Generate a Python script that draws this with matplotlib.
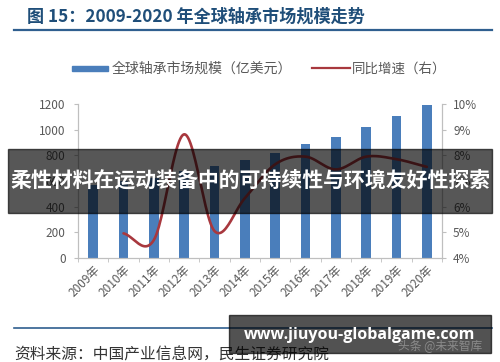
import matplotlib
matplotlib.use("Agg")
import matplotlib.pyplot as plt
import numpy as np
from matplotlib.patches import Rectangle
from matplotlib.lines import Line2D

plt.rcParams["font.family"] = ["Noto Sans CJK SC", "DejaVu Sans"]

# ── Data ────────────────────────────────────────────────────────────────────
years = ["2009年", "2010年", "2011年", "2012年", "2013年", "2014年",
         "2015年", "2016年", "2017年", "2018年", "2019年", "2020年"]
market_size = [570, 598, 626, 681, 715, 760, 820, 885, 945, 1023, 1107, 1190]
growth_years_idx = [1, 2, 3, 4, 5, 6, 7, 8, 9, 10, 11]
growth_pct = [4.96, 4.70, 8.82, 5.05, 6.33, 7.65, 7.95, 7.45, 7.95, 7.85, 7.55]

title = "图 15：2009-2020 年全球轴承市场规模走势"
legend_bar = "全球轴承市场规模（亿美元）"
legend_line = "同比增速（右）"
source = "资料来源：中国产业信息网，民生证券研究院"
banner = "柔性材料在运动装备中的可持续性与环境友好性探索"
site = "www.jiuyou-globalgame.com"

BAR_COLOR = "#4A7EBB"
LINE_COLOR = "#A8383E"
TITLE_COLOR = "#1F4E79"
AXIS_GRAY = "#BFBFBF"
TEXT_GRAY = "#595959"

W, H = 500, 362


def fx(x):
    return x / W


def fy(y):
    return 1 - y / H


def catmull_rom(x, y, n=24):
    """Smooth curve through the points (Excel-like smoothed line)."""
    x = np.asarray(x, float)
    y = np.asarray(y, float)
    px = np.concatenate([[2 * x[0] - x[1]], x, [2 * x[-1] - x[-2]]])
    py = np.concatenate([[2 * y[0] - y[1]], y, [2 * y[-1] - y[-2]]])
    out_x, out_y = [], []
    t = np.linspace(0, 1, n, endpoint=False)
    for i in range(1, len(px) - 2):
        for arr, out in ((px, out_x), (py, out_y)):
            p0, p1, p2, p3 = arr[i - 1], arr[i], arr[i + 1], arr[i + 2]
            out.extend(0.5 * ((2 * p1) + (-p0 + p2) * t
                              + (2 * p0 - 5 * p1 + 4 * p2 - p3) * t ** 2
                              + (-p0 + 3 * p1 - 3 * p2 + p3) * t ** 3))
    out_x.append(x[-1])
    out_y.append(y[-1])
    return np.array(out_x), np.array(out_y)


fig = plt.figure(figsize=(5, 3.62), dpi=100)
fig.patch.set_facecolor("white")

ax = fig.add_axes([fx(78), fy(258), (442 - 78) / W, (258 - 104) / H])
xs = np.arange(len(years))
ax.bar(xs, market_size, width=0.32, color=BAR_COLOR, zorder=2)
ax.set_xlim(-0.5, len(years) - 0.5)
ax.set_ylim(0, 1200)
ax.set_yticks(np.arange(0, 1201, 200))
ax.set_xticks(xs)
ax.set_xticklabels(years, rotation=45, ha="right", va="top",
                   rotation_mode="anchor", fontsize=8.5, color=TEXT_GRAY)
ax.set_xticks(np.arange(-0.5, len(years)), minor=True)
ax.tick_params(axis="x", which="major", length=0, pad=4)
ax.tick_params(axis="x", which="minor", length=3, color=AXIS_GRAY)
ax.tick_params(axis="y", length=3, color=AXIS_GRAY, labelsize=8.5,
               labelcolor=TEXT_GRAY, pad=6)
for side in ("left", "bottom", "right"):
    ax.spines[side].set_color(AXIS_GRAY)
ax.spines["top"].set_visible(False)

ax2 = ax.twinx()
sx, sy = catmull_rom(growth_years_idx, growth_pct)
ax2.plot(sx, sy, color=LINE_COLOR, linewidth=1.9, solid_capstyle="round", zorder=3)
ax2.set_ylim(4, 10)
ax2.set_yticks(np.arange(4, 11, 1))
ax2.set_yticklabels([f"{v}%" for v in range(4, 11)])
ax2.tick_params(axis="y", length=3, color=AXIS_GRAY, labelsize=8.5,
                labelcolor=TEXT_GRAY, pad=5)
for side in ("left", "bottom", "right"):
    ax2.spines[side].set_color(AXIS_GRAY)
ax2.spines["top"].set_visible(False)

# ── Title, rules, legend ────────────────────────────────────────────────────
fig.text(fx(27), fy(16.5), title, fontsize=12.3, fontweight="bold",
         color=TITLE_COLOR, ha="left", va="center")
fig.add_artist(Line2D([fx(14), fx(492)], [fy(30), fy(30)], color="#2F5F8F",
                      linewidth=1.6))

fig.add_artist(Rectangle((fx(72), fy(70.5)), 36 / W, 5 / H,
                         transform=fig.transFigure, color=BAR_COLOR))
fig.text(fx(112), fy(68.5), legend_bar, fontsize=10, color=TEXT_GRAY,
         ha="left", va="center")
fig.add_artist(Line2D([fx(312), fx(350)], [fy(68), fy(68)], color=LINE_COLOR,
                      linewidth=1.6))
fig.text(fx(352), fy(68.5), legend_line, fontsize=9.7, color=TEXT_GRAY,
         ha="left", va="center")

fig.add_artist(Line2D([fx(14), fx(492)], [fy(328), fy(328)], color="#2F5F8F",
                      linewidth=1.2))
fig.text(fx(14), fy(355), source, fontsize=11.3, color="#333333",
         ha="left", va="center")

# ── Overlays ────────────────────────────────────────────────────────────────
fig.add_artist(Rectangle((fx(8), fy(213)), (492 - 8) / W, (213 - 149) / H,
                         transform=fig.transFigure, color="black", alpha=0.66,
                         zorder=5))
fig.text(fx(250), fy(180), banner, fontsize=15, fontweight="bold",
         color="white", ha="center", va="center", zorder=6)

fig.add_artist(Rectangle((fx(229), fy(353)), (491 - 229) / W, (353 - 315) / H,
                         transform=fig.transFigure, color="black", alpha=0.68,
                         zorder=5))
fig.text(fx(440), fy(347), "头条 @未来智库", fontsize=8.5, color="#8a8a8a",
         ha="center", va="center", zorder=6)
fig.text(fx(360), fy(335), site, fontsize=11.5, fontweight="bold",
         color="white", ha="center", va="center", zorder=7,
         family=["Open Sans", "DejaVu Sans"])

fig.savefig("out.png", dpi=100, facecolor="white")
